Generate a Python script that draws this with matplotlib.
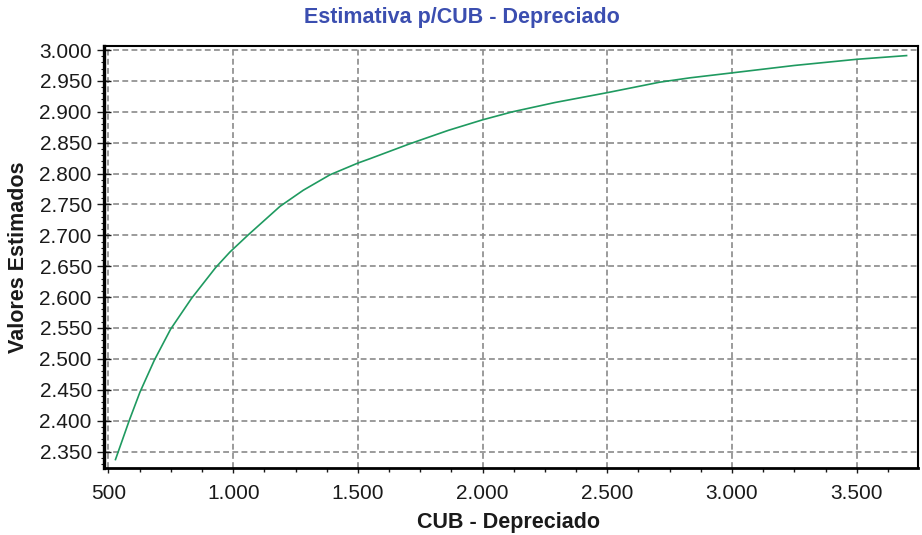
import numpy as np
import matplotlib
matplotlib.use("Agg")
import matplotlib.pyplot as plt
from matplotlib.ticker import MultipleLocator, FuncFormatter

plt.rcParams['font.family'] = ['Liberation Sans', 'DejaVu Sans']

# values (CUB - Depreciado vs Valores Estimados)
cub = [528, 583, 626, 684, 749, 833, 930, 987, 1061, 1188, 1281, 1388,
       1500, 1548, 1700, 1742, 1863, 2000, 2120, 2290, 2500, 2711, 2832,
       3000, 3250, 3500, 3700]
estimados = [2337, 2400, 2446, 2498, 2548, 2598, 2648, 2673, 2701, 2747,
             2773, 2798, 2817, 2824, 2847, 2853, 2870, 2887, 2900, 2915,
             2931, 2948, 2955, 2963, 2975, 2985, 2991]

title = 'Estimativa p/CUB - Depreciado'
xlabel = 'CUB - Depreciado'
ylabel = 'Valores Estimados'


def br_thousands(v, pos):
    return '{:,.0f}'.format(v).replace(',', '.')


fig = plt.figure(figsize=(9.22, 5.35), dpi=100)
ax = fig.add_axes([0.1128, 0.1252, 0.8829, 0.7888])

ax.plot(cub, estimados, color='#1f9a60', lw=1.2, zorder=3)

ax.set_xlim(482, 3746)
ax.set_ylim(2323.3, 3006.5)

ax.xaxis.set_major_locator(MultipleLocator(500))
ax.xaxis.set_minor_locator(MultipleLocator(125))
ax.yaxis.set_major_locator(MultipleLocator(50))
ax.yaxis.set_minor_locator(MultipleLocator(10))
ax.xaxis.set_major_formatter(FuncFormatter(br_thousands))
ax.yaxis.set_major_formatter(FuncFormatter(br_thousands))

ax.tick_params(axis='x', which='major', direction='out', length=3.8,
               width=1, pad=8, labelsize=15, colors='#1a1a1a')
ax.tick_params(axis='x', which='minor', direction='out', length=3,
               width=1, color='#1a1a1a')
ax.tick_params(axis='y', which='major', direction='inout', length=9.5,
               width=1, pad=4, labelsize=15, colors='#1a1a1a')
ax.tick_params(axis='y', which='minor', direction='out', length=2.2,
               width=0.8, color='#1a1a1a')

ax.grid(True, which='major', color='#8a8a8a', lw=1.2,
        linestyle=(0, (3.5, 2)), zorder=1)

for side, w in (('left', 2.4), ('bottom', 2.0), ('top', 1.5), ('right', 1.5)):
    ax.spines[side].set_linewidth(w)
    ax.spines[side].set_color('black')

fig.text(0.501, 0.968, title, ha='center', va='center', fontsize=15.5,
         fontweight='bold', color='#3b4eb0')
fig.text(0.551, 0.024, xlabel, ha='center', va='center', fontsize=15.5,
         fontweight='bold', color='#1a1a1a')
fig.text(0.02, 0.52, ylabel, ha='center', va='center', rotation=90,
         fontsize=15.5, fontweight='bold', color='#1a1a1a')

fig.savefig('out.png', dpi=100)
